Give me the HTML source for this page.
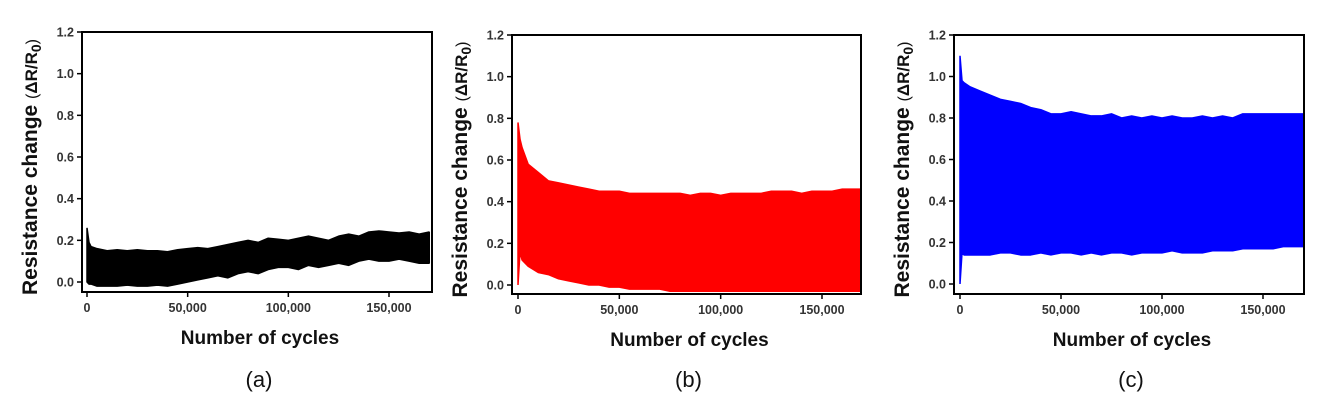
<!DOCTYPE html>
<html><head><meta charset="utf-8"><style>
body{margin:0;background:#fff;width:1328px;height:409px;overflow:hidden}
svg text{font-family:"Liberation Sans",Arial,sans-serif}
</style></head><body>
<svg id="fig" width="1328" height="409" viewBox="0 0 1328 409"></svg>
<script>
const xs = [0,1000,2000,5000,10000,15000,20000,25000,30000,35000,40000,45000,50000,55000,60000,65000,70000,75000,80000,85000,90000,95000,100000,105000,110000,115000,120000,125000,130000,135000,140000,145000,150000,155000,160000,165000,170000];
const aUpper = [0.26,0.19,0.17,0.16,0.15,0.155,0.15,0.155,0.15,0.15,0.145,0.155,0.16,0.165,0.16,0.17,0.18,0.19,0.2,0.19,0.21,0.205,0.2,0.21,0.22,0.21,0.2,0.22,0.23,0.22,0.24,0.245,0.24,0.235,0.24,0.23,0.24];
const aLower = [0.0,-0.01,-0.01,-0.02,-0.02,-0.02,-0.015,-0.02,-0.02,-0.015,-0.02,-0.01,0.0,0.01,0.02,0.03,0.02,0.04,0.05,0.04,0.06,0.07,0.07,0.06,0.08,0.07,0.08,0.09,0.08,0.1,0.11,0.1,0.1,0.11,0.1,0.09,0.09];
const bUpper = [0.78,0.7,0.66,0.58,0.54,0.5,0.49,0.48,0.47,0.46,0.45,0.45,0.45,0.44,0.44,0.44,0.44,0.44,0.44,0.43,0.44,0.44,0.43,0.44,0.44,0.44,0.44,0.45,0.45,0.45,0.44,0.45,0.45,0.45,0.46,0.46,0.46];
const bLower = [0.0,0.16,0.12,0.09,0.06,0.05,0.03,0.02,0.01,0.0,0.0,-0.01,-0.01,-0.02,-0.02,-0.02,-0.02,-0.03,-0.03,-0.03,-0.03,-0.03,-0.03,-0.03,-0.03,-0.03,-0.03,-0.03,-0.03,-0.03,-0.03,-0.03,-0.03,-0.03,-0.03,-0.03,-0.03];
const cUpper = [1.1,0.98,0.97,0.95,0.93,0.91,0.89,0.88,0.87,0.85,0.84,0.82,0.82,0.83,0.82,0.81,0.81,0.82,0.8,0.81,0.8,0.81,0.8,0.81,0.8,0.8,0.81,0.8,0.81,0.8,0.82,0.82,0.82,0.82,0.82,0.82,0.82];
const cLower = [0.0,0.15,0.14,0.14,0.14,0.14,0.15,0.15,0.14,0.14,0.15,0.14,0.15,0.15,0.14,0.15,0.14,0.15,0.15,0.14,0.15,0.15,0.15,0.16,0.15,0.15,0.15,0.16,0.16,0.16,0.17,0.17,0.17,0.17,0.18,0.18,0.18];
const yTicks = [0.0,0.2,0.4,0.6,0.8,1.0,1.2];
const yTickLabels = ["0.0","0.2","0.4","0.6","0.8","1.0","1.2"];
const xTicks = [0,50000,100000,150000];
const xTickLabels = ["0","50,000","100,000","150,000"];

const NS="http://www.w3.org/2000/svg", svg=document.getElementById('fig');
function mk(tag,attrs,parent,txt){const e=document.createElementNS(NS,tag);for(const k in attrs)e.setAttribute(k,attrs[k]);if(txt!==undefined)e.textContent=txt;(parent||svg).appendChild(e);return e;}
const defs=mk('defs',{});

function chart(id,cfg,upper,lower,color,panel){
  const g=mk('g',{});
  
  
  const cp=mk('clipPath',{id:'clip-'+id},defs);
  mk('rect',{x:cfg.l,y:cfg.t,width:cfg.r-cfg.l,height:cfg.b-cfg.t},cp);
  const X=v=>cfg.x0+(v/150000)*(cfg.x150-cfg.x0);
  const Y=v=>cfg.y0+(v/1.2)*(cfg.y12-cfg.y0);
  let pts=[];
  for(let i=0;i<xs.length;i++)pts.push(X(xs[i])+','+Y(upper[i]));
  for(let i=xs.length-1;i>=0;i--)pts.push(X(xs[i])+','+Y(lower[i]));
  const area=mk('polygon',{points:pts.join(' '),fill:color,stroke:color,'stroke-width':1.5,'stroke-linejoin':'bevel','clip-path':'url(#clip-'+id+')'},g);
  
  
  const fr=mk('rect',{x:cfg.l,y:cfg.t,width:cfg.r-cfg.l,height:cfg.b-cfg.t,fill:'none',stroke:'#000','stroke-width':2},g);
  
  
  yTicks.forEach((v,i)=>{
    mk('line',{x1:cfg.l-5,x2:cfg.l,y1:Y(v),y2:Y(v),stroke:'#000','stroke-width':1.5},g);
    const t=mk('text',{x:cfg.l-8,y:Y(v)+4.5,'text-anchor':'end','font-size':12.5,'font-weight':'bold',fill:'#333'},g,yTickLabels[i]);
    
    
  });
  xTicks.forEach((v,i)=>{
    mk('line',{x1:X(v),x2:X(v),y1:cfg.b,y2:cfg.b+5,stroke:'#000','stroke-width':1.5},g);
    const t=mk('text',{x:X(v),y:cfg.b+20,'text-anchor':'middle','font-size':12.5,'font-weight':'bold',fill:'#333'},g,xTickLabels[i]);
    
    
  });
  const xt=mk('text',{x:(cfg.l+cfg.r)/2+3,y:cfg.b+52,'text-anchor':'middle','font-size':19,'font-weight':'bold',fill:'#111'},g,'Number of cycles');
  
  
  const yc=(cfg.t+cfg.b)/2+5;
  const yt=mk('text',{transform:`translate(${cfg.l-45},${yc}) rotate(-90)`,'text-anchor':'middle','font-size':21,'font-weight':'bold',fill:'#111'},g);
  
  
  yt.innerHTML='Resistance change <tspan font-size="16" font-weight="normal">(</tspan><tspan font-size="17">ΔR/R</tspan><tspan font-size="14" dy="4">0</tspan><tspan font-size="16" font-weight="normal" dy="-4">)</tspan>';
  const pl=mk('text',{x:(cfg.l+cfg.r)/2+2,y:387,'text-anchor':'middle','font-size':22,fill:'#111'},g,panel);
  
  
}
chart('a',{l:82,t:32,r:432,b:292,x0:87,x150:389,y0:282,y12:32},aUpper,aLower,'#000','(a)');
chart('b',{l:512,t:35,r:861,b:294,x0:518,x150:822,y0:285,y12:35},bUpper,bLower,'#ff0000','(b)');
chart('c',{l:954,t:35,r:1304,b:294,x0:960,x150:1263,y0:284,y12:35},cUpper,cLower,'#0000ff','(c)');
</script>
</body></html>
